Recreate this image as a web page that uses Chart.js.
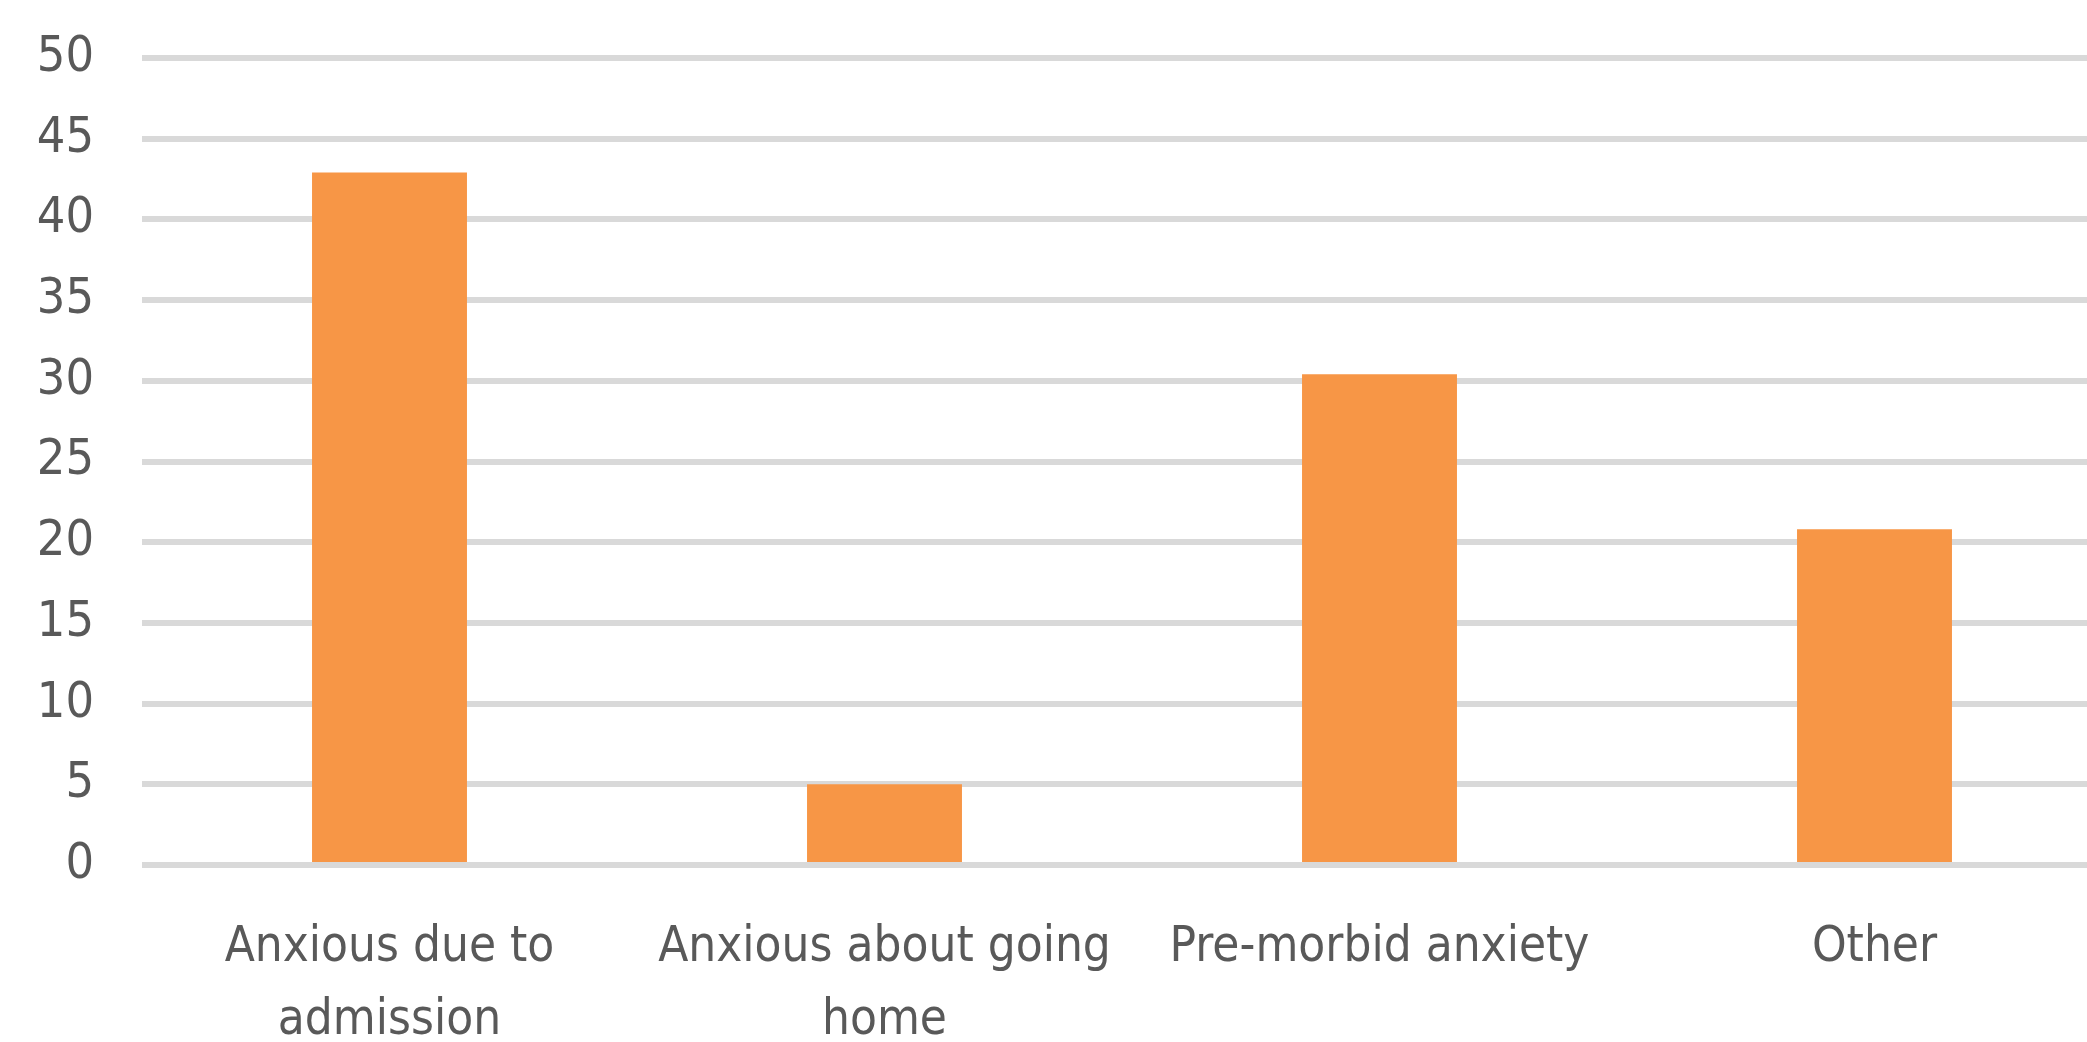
<!DOCTYPE html>
<html>
<head>
<meta charset="utf-8">
<script src="https://cdn.jsdelivr.net/npm/chart.js@4.4.1/dist/chart.umd.min.js"></script>
<style>
  html, body { margin: 0; padding: 0; background: #fff; overflow: hidden; }
  #wrap { width: 2122px; height: 1042px; position: relative; }
</style>
</head>
<body>
<div id="wrap"><canvas id="chart"></canvas></div>
<script>
// categories and values
const categories = [
    ["Anxious due to", "admission"],
    ["Anxious about going", "home"],
    "Pre-morbid anxiety",
    "Other"
];
const values = [42.9, 5.0, 30.4, 20.8];
const yTicks = [0, 5, 10, 15, 20, 25, 30, 35, 40, 45, 50];

const FONT = "'Liberation Sans Narrow', 'DejaVu Sans Condensed', sans-serif";
const TEXT = "#595959";

const ctx = document.getElementById("chart").getContext("2d");

new Chart(ctx, {
    type: "bar",
    data: {
        labels: categories,
        datasets: [{
            data: values,
            backgroundColor: "#F79646",
            borderWidth: 0,
            categoryPercentage: 1,
            barPercentage: 0.313
        }]
    },
    options: {
        responsive: true,
        maintainAspectRatio: false,
        animation: false,
        layout: { padding: { top: 58, right: 0, bottom: 0, left: 0 } },
        plugins: {
            legend: { display: false },
            tooltip: { enabled: false }
        },
        scales: {
            x: {
                grid: { display: false, drawTicks: false },
                border: { display: false },
                ticks: {
                    color: TEXT,
                    font: { family: FONT, size: 49, lineHeight: 1.48 },
                    padding: 47,
                    maxRotation: 0,
                    autoSkip: false
                },
                afterFit: function (scale) { scale.height = 177; }
            },
            y: {
                min: 0,
                max: 50,
                afterBuildTicks: function (scale) {
                    scale.ticks = yTicks.map(v => ({ value: v }));
                },
                grid: { color: "#D9D9D9", lineWidth: 6, drawTicks: false },
                border: { display: false },
                ticks: {
                    color: TEXT,
                    // small line height keeps the top label from pushing the plot down
                    font: { family: FONT, size: 50, lineHeight: 0.2 },
                    padding: 48
                },
                afterFit: function (scale) { scale.width = 142; }
            }
        }
    }
});
</script>
</body>
</html>
